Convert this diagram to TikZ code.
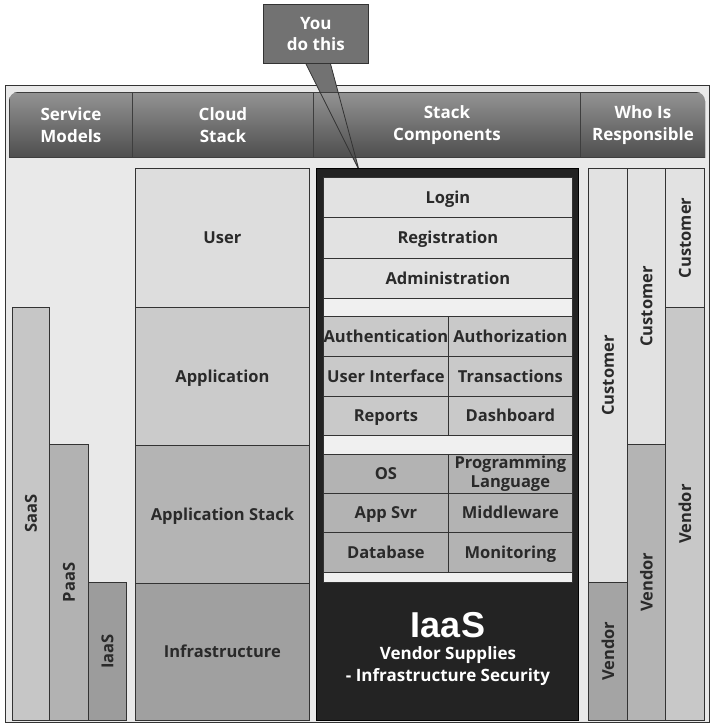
\documentclass[tikz,border=0pt]{standalone}
\usepackage{fontspec}
\setmainfont{Open Sans}
\newfontfamily\arialfont{Liberation Sans}
\usetikzlibrary{calc}
\definecolor{bgc}{HTML}{E9E9E9}
\definecolor{linec}{HTML}{333333}
\definecolor{txt}{HTML}{2A2A2A}
\definecolor{hdrtop}{HTML}{939393}
\definecolor{hdrbot}{HTML}{4E4E4E}
\definecolor{hdrsep}{HTML}{3E3E3E}
\definecolor{callg}{HTML}{727272}
\definecolor{saasc}{HTML}{C6C6C6}
\definecolor{paasc}{HTML}{B2B2B2}
\definecolor{iaasc}{HTML}{9C9C9C}
\definecolor{userc}{HTML}{DDDDDD}
\definecolor{appc}{HTML}{CBCBCB}
\definecolor{appstc}{HTML}{B4B4B4}
\definecolor{infrac}{HTML}{A0A0A0}
\definecolor{blackc}{HTML}{232323}
\definecolor{rowa}{HTML}{E2E2E2}
\definecolor{rowb}{HTML}{C9C9C9}
\definecolor{rowc}{HTML}{B3B3B3}
\definecolor{gapc}{HTML}{F0F0F0}
\definecolor{custc}{HTML}{E2E2E2}
\definecolor{vendA}{HTML}{A4A4A4}
\definecolor{vendB}{HTML}{B4B4B4}
\definecolor{vendC}{HTML}{C8C8C8}
\newcommand\cellnode[7]{%
  \pgfmathsetmacro\cellw{#4-#2}%
  \pgfmathsetmacro\cellh{#5-#3}%
  \node[box,#6,minimum width=\cellw pt,minimum height=\cellh pt] (#1) at (#2,#3) {#7};}
\begin{document}
\begin{tikzpicture}[x=1pt,y=-1pt,
  box/.style={draw=linec, line width=0.8pt, inner sep=0pt, anchor=north west,
    font=\bfseries\fontsize{16.5}{19}\selectfont, text=txt, align=center},
  oneline/.style={text height=12pt, text depth=0.5pt},
  hdr/.style={draw=hdrsep, line width=0.9pt, top color=hdrtop, bottom color=hdrbot,
    text=white, font=\bfseries\fontsize{17}{22}\selectfont},
  vlab/.style={rotate=90, text=txt, font=\bfseries\fontsize{16.5}{19}\selectfont}]
\useasboundingbox (0,0) rectangle (712,726);
% outer frame
\node[box, fill=bgc, line width=1.2pt, minimum width=704pt, minimum height=637pt] (frame) at (5,85) {};
% callout tail
\coordinate (tailL) at (305,62);
\coordinate (tailR) at (330,62);
\coordinate (tip) at (359,170);
\fill[callg] (tailL) -- (tip) -- (tailR) -- cycle;
% header
\begin{scope}
\clip[rounded corners=9pt] (9,92) rectangle (705,200);
\cellnode{h1}{9}{92}{132}{157}{hdr}{Service\\Models}
\cellnode{h2}{132}{92}{313}{157}{hdr}{Cloud\\Stack}
\cellnode{h3}{313}{92}{580}{157}{hdr}{Stack\\Components}
\cellnode{h4}{580}{92}{705}{157}{hdr}{Who Is\\Responsible}
\end{scope}
\draw[linec, line width=0.8pt] (tailL) -- (tip) -- (tailR);
% callout box
\cellnode{callout}{263}{4}{368}{63}{fill=callg, text=white, font=\bfseries\fontsize{17}{21}\selectfont}{You\\do this}
% service models
\cellnode{saas}{12}{307}{49}{720}{fill=saasc, label={[vlab]center:SaaS}}{}
\cellnode{paas}{49}{444}{88}{720}{fill=paasc, label={[vlab]center:PaaS}}{}
\cellnode{iaas}{88}{582}{126}{720}{fill=iaasc, label={[vlab]center:IaaS}}{}
% cloud stack
\cellnode{user}{135}{168}{309}{307}{fill=userc, oneline}{User}
\cellnode{app}{135}{307}{309}{445}{fill=appc, oneline}{Application}
\cellnode{appst}{135}{445}{309}{583}{fill=appstc, oneline}{Application Stack}
\cellnode{infra}{135}{583}{309}{720}{fill=infrac, oneline}{Infrastructure}
% stack components
\cellnode{blk}{316}{168}{578}{720}{fill=blackc, draw=black}{}
\cellnode{login}{323}{177}{572}{217}{fill=rowa, oneline}{Login}
\cellnode{reg}{323}{217}{572}{258}{fill=rowa, oneline}{Registration}
\cellnode{adm}{323}{258}{572}{298}{fill=rowa, oneline}{Administration}
\cellnode{gap1}{323}{298}{572}{316}{fill=gapc}{}
\cellnode{authn}{323}{316}{448}{356}{fill=rowb, oneline}{Authentication}
\cellnode{authz}{448}{316}{572}{356}{fill=rowb, oneline}{Authorization}
\cellnode{ui}{323}{356}{448}{396}{fill=rowb, oneline}{User Interface}
\cellnode{trans}{448}{356}{572}{396}{fill=rowb, oneline}{Transactions}
\cellnode{rep}{323}{396}{448}{435}{fill=rowb, oneline}{Reports}
\cellnode{dash}{448}{396}{572}{435}{fill=rowb, oneline}{Dashboard}
\cellnode{gap2}{323}{435}{572}{454}{fill=gapc}{}
\cellnode{os}{323}{454}{448}{493}{fill=rowc, oneline}{OS}
\cellnode{prog}{448}{454}{572}{493}{fill=rowc, font=\bfseries\fontsize{16.5}{19}\selectfont}{Programming\\Language}
\cellnode{appsvr}{323}{493}{448}{532}{fill=rowc, oneline}{App Svr}
\cellnode{mid}{448}{493}{572}{532}{fill=rowc, oneline}{Middleware}
\cellnode{db}{323}{532}{448}{572}{fill=rowc, oneline}{Database}
\cellnode{mon}{448}{532}{572}{572}{fill=rowc, oneline}{Monitoring}
\cellnode{gap3}{323}{572}{572}{582}{fill=gapc}{}
\node[text=white, font=\arialfont\bfseries\fontsize{36}{40}\selectfont] (iaasbig) at (448,625) {IaaS};
\node[text=white, font=\bfseries\fontsize{17}{22}\selectfont, align=center] (vsup) at (448,666) {Vendor Supplies\\- Infrastructure Security};
% who is responsible
\cellnode{c1}{588}{168}{627}{582}{fill=custc, label={[vlab]center:Customer}}{}
\cellnode{v1}{588}{582}{627}{720}{fill=vendA, label={[vlab]center:Vendor}}{}
\cellnode{c2}{627}{168}{665}{444}{fill=custc, label={[vlab]center:Customer}}{}
\cellnode{v2}{627}{444}{665}{720}{fill=vendB, label={[vlab]center:Vendor}}{}
\cellnode{c3}{665}{168}{704}{307}{fill=custc, label={[vlab]center:Customer}}{}
\cellnode{v3}{665}{307}{704}{720}{fill=vendC, label={[vlab]center:Vendor}}{}
\end{tikzpicture}
\end{document}
